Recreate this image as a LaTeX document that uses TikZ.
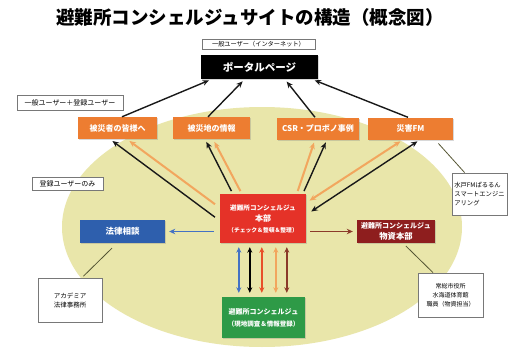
\documentclass[tikz,border=0pt]{standalone}
\usepackage{fontspec}
\newfontfamily\jp{Noto Sans CJK JP}
\usetikzlibrary{calc,arrows.meta,shadows}
\definecolor{ellfill}{RGB}{233,230,170}
\definecolor{obox}{RGB}{237,125,49}
\definecolor{oline}{RGB}{242,166,94}
\definecolor{hqred}{RGB}{229,50,40}
\definecolor{dred}{RGB}{142,30,30}
\definecolor{lawblue}{RGB}{46,95,173}
\definecolor{grn}{RGB}{46,154,71}
\definecolor{vblue}{RGB}{68,114,196}
\definecolor{vred}{RGB}{232,80,42}
\definecolor{vbrown}{RGB}{139,58,42}
\definecolor{annline}{RGB}{85,85,51}
\definecolor{labgray}{RGB}{120,120,120}
\tikzset{
  lab/.style={draw=labgray,line width=0.8pt,fill=white,inner sep=0pt,align=center,font=\jp,
    drop shadow={opacity=0.25,shadow xshift=1pt,shadow yshift=-1pt}},
  cbox/.style={inner sep=0pt,align=center,text=white,font=\jp\bfseries,
    drop shadow={opacity=0.3,shadow xshift=1pt,shadow yshift=-1pt}},
  ob/.style={cbox,fill=obox,minimum width=#1,minimum height=22pt,font=\jp\bfseries\fontsize{8}{9}\selectfont},
  tipA/.style={-{Stealth[length=6.5pt,width=5.5pt]}},
  blk/.style={line width=1.4pt,black!90,tipA},
  org/.style={line width=2pt,oline,tipA},
  blk2/.style={line width=1.4pt,black!90,{Stealth[length=6.5pt,width=5.5pt]}-{Stealth[length=6.5pt,width=5.5pt]}},
  org2/.style={line width=2pt,oline,{Stealth[length=6.5pt,width=5.5pt]}-{Stealth[length=6.5pt,width=5.5pt]}},
  varr/.style={line width=1.6pt,#1,{Stealth[length=5.5pt,width=5pt]}-{Stealth[length=5.5pt,width=5pt]}},
  ann/.style={line width=0.8pt,annline}
}
\begin{document}
\begin{tikzpicture}[x=1pt,y=-1pt]
\useasboundingbox (0,0) rectangle (517,348);
\fill[white] (0,0) rectangle (517,348);
% ellipse background
\fill[ellfill] (262,227) ellipse [x radius=200, y radius=120];

% title
\node[font=\jp\bfseries\fontsize{18.5}{20}\selectfont] (title) at (250,17.5) {避難所コンシェルジュサイトの構造（概念図）};

% labels
\node[lab,minimum width=113pt,minimum height=10pt,font=\jp\fontsize{6.2}{7}\selectfont] (lab1) at (258.5,44) {一般ユーザー（インターネット）};
\node[lab,minimum width=106pt,minimum height=15pt,font=\jp\fontsize{7}{8}\selectfont] (lab2) at (70,102.5) {一般ユーザー＋登録ユーザー};
\node[lab,minimum width=71pt,minimum height=13pt,font=\jp\fontsize{7}{8}\selectfont] (lab3) at (67.5,183.5) {登録ユーザーのみ};

% portal
\node[cbox,fill=black,minimum width=117pt,minimum height=24pt,font=\jp\bfseries\fontsize{10.5}{12}\selectfont] (portal) at (259.5,67) {ポータルページ};

% orange boxes
\node[ob=79pt] (ob1) at (117.5,128) {被災者の皆様へ};
\node[ob=77pt] (ob2) at (211.5,128) {被災地の情報};
\node[ob=82pt] (ob3) at (318,128.5) {CSR・プロボノ事例};
\node[ob=85pt] (ob4) at (410.5,128.5) {災害FM};

% center boxes
\node[cbox,fill=hqred,minimum width=86pt,minimum height=49pt] (hq) at (263,218.5)
  {{\fontsize{6.6}{8}\selectfont 避難所コンシェルジュ}\\[-1pt]{\fontsize{8}{10}\selectfont 本部}\\[-1pt]{\fontsize{5.8}{7}\selectfont （チェック＆整頓＆整理）}};
\node[cbox,fill=lawblue,minimum width=85pt,minimum height=23pt,font=\jp\bfseries\fontsize{8.5}{10}\selectfont] (law) at (122.5,231.5) {法律相談};
\node[cbox,fill=dred,minimum width=78pt,minimum height=23pt] (bussi) at (396,231.5)
  {{\fontsize{7}{8}\selectfont 避難所コンシェルジュ}\\[-1.5pt]{\fontsize{8.3}{9.5}\selectfont 物資本部}};
\node[cbox,fill=grn,minimum width=83pt,minimum height=41pt] (green) at (263.5,317.5)
  {{\fontsize{7}{9}\selectfont 避難所コンシェルジュ}\\{\fontsize{6.5}{8}\selectfont （現地調査＆情報登録）}};

% annotation boxes
\node[lab,minimum width=55pt,minimum height=42pt,align=left,font=\jp\fontsize{6.3}{9}\selectfont] (fmlab) at (479.5,194) {水戸FMぱるるん\\スマートエンジニ\\アリング};
\node[lab,minimum width=64pt,minimum height=44pt,font=\jp\fontsize{6.5}{9}\selectfont] (acad) at (70,300) {アカデミア\\法律事務所};
\node[lab,minimum width=65pt,minimum height=44pt,font=\jp\fontsize{6}{9}\selectfont] (joso) at (450.5,295) {常総市役所\\水海道体育館\\職員（物資担当）};

% arrows to portal
\draw[blk,shorten >=3pt] ($(ob1.north)+(4.5,0)$) -- ($(portal.south west)+(11,0)$);
\draw[blk,shorten >=3pt] ($(ob2.north)+(-3.5,0)$) -- ($(portal.south west)+(44,0)$);
\draw[blk,shorten >=3pt] ($(ob3.north)+(-3,0)$) -- ($(portal.south west)+(84,0)$);
\draw[blk,shorten >=3pt] ($(ob4.north)+(-2.5,0)$) -- ($(portal.south west)+(111,0)$);

% hq <-> orange boxes
\draw[org,shorten <=6pt,shorten >=3pt] ($(hq.north west)+(0,14)$) -- ($(ob1.south)+(9.5,0)$);
\draw[blk,shorten <=6pt,shorten >=3pt] ($(hq.north west)+(0,27)$) -- ($(ob1.south)+(-7.5,0)$);
\draw[blk,shorten <=3pt,shorten >=3pt] ($(hq.north west)+(13,0)$) -- ($(ob2.south)+(-6.5,0)$);
\draw[org,shorten <=3pt,shorten >=3pt] ($(hq.north west)+(22,0)$) -- ($(ob2.south)+(1.5,0)$);
\draw[org,shorten <=3pt,shorten >=3pt] ($(hq.north west)+(77,0)$) -- ($(ob3.south)+(-3,0)$);
\draw[blk,shorten <=3pt,shorten >=3pt] ($(hq.north west)+(83,0)$) -- ($(ob3.south)+(9,0)$);
\draw[org2,shorten <=4pt,shorten >=3pt] ($(hq.north east)+(0,9)$) -- ($(ob4.south)+(-7.5,0)$);
\draw[blk2,shorten <=6pt,shorten >=3pt] ($(hq.north east)+(0,21)$) -- ($(ob4.south)+(9.5,0)$);

% side arrows
\draw[line width=1.6pt,vblue,-{Stealth[length=6pt,width=5.5pt]},shorten <=6pt,shorten >=4pt] (hq.west |- law.east) -- (law.east);
\draw[line width=1.6pt,vbrown,-{Stealth[length=6pt,width=5.5pt]},shorten <=4pt,shorten >=4pt] (hq.east |- bussi.west) -- (bussi.west);

% vertical arrows
\coordinate (v1) at ($(hq.south west)+(19,0)$);
\coordinate (v2) at ($(hq.south west)+(30,0)$);
\coordinate (v3) at ($(hq.south west)+(42,0)$);
\coordinate (v4) at ($(hq.south west)+(56,0)$);
\coordinate (v5) at ($(hq.south west)+(67,0)$);
\draw[varr=vblue,shorten <=4pt,shorten >=4pt] (v1) -- (v1 |- green.north);
\draw[varr=black,shorten <=4pt,shorten >=4pt] (v2) -- (v2 |- green.north);
\draw[varr=vred,shorten <=4pt,shorten >=4pt] (v3) -- (v3 |- green.north);
\draw[varr=oline,shorten <=4pt,shorten >=4pt] (v4) -- (v4 |- green.north);
\draw[varr=vbrown,shorten <=4pt,shorten >=4pt] (v5) -- (v5 |- green.north);

% annotation lines
\draw[ann,shorten <=5pt] ($(ob4.south)+(24.5,0)$) -- ($(fmlab.north west)+(13,0)$);
\draw[ann,shorten <=7pt,shorten >=2pt] ($(law.south)+(-5.5,0)$) -- ($(acad.north)+(12,0)$);
\draw[ann,shorten <=4pt] ($(bussi.south)+(7,0)$) -- ($(joso.north)+(-17.5,0)$);
\end{tikzpicture}
\end{document}
